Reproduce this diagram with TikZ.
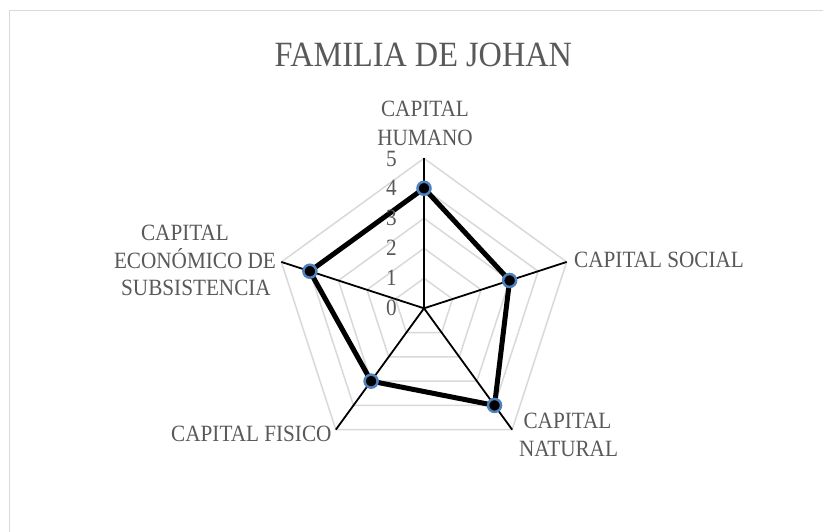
\documentclass[tikz,border=0pt]{standalone}
\usepackage{fontspec}
\setmainfont{Liberation Serif}[FakeStretch=0.91]
\definecolor{txt}{HTML}{595959}
\definecolor{gridc}{HTML}{D9D9D9}
\definecolor{markc}{HTML}{4F81BD}
\begin{document}
\begin{tikzpicture}[x=1pt,y=-1pt,
  lbl/.style={text=txt, font=\fontsize{23.3}{28}\selectfont, inner sep=0pt},
  ttl/.style={text=txt, font=\fontsize{35.5}{40}\selectfont, inner sep=0pt},
  tick/.style={lbl, text height=13pt, text depth=0pt},
  gridline/.style={draw=gridc, line width=1.5pt, line join=miter},
  spoke/.style={draw=black, line width=1.8pt},
  series/.style={draw=black, line width=5pt, line join=round},
  dot/.style={circle, fill=black, draw=markc, line width=2.5pt, minimum size=13pt, inner sep=0pt},
  frame/.style={draw=gridc, line width=1.8pt}]
\useasboundingbox (0,0) rectangle (823,531);
\clip (0,0) rectangle (823,531);
\fill[white] (0,0) rectangle (823,531);
\draw[frame] (9.5,545) -- (9.5,10.5) -- (840,10.5);
\node[ttl, anchor=base] (title) at (423.4,66.7) {FAMILIA DE JOHAN};
\coordinate (O) at (424,308.3);
\begin{scope}[shift={(O)}, x=1pt, y=1pt]
  \foreach \r in {1,...,5}
    \draw[gridline] (90:{30*\r}) -- (18:{30*\r}) -- (-54:{30*\r}) -- (-126:{30*\r}) -- (162:{30*\r}) -- cycle;
  \coordinate (a1) at (90:150);
  \coordinate (a2) at (18:150);
  \coordinate (a3) at (-54:150);
  \coordinate (a4) at (-126:150);
  \coordinate (a5) at (162:150);
  \coordinate (v1) at (90:120);
  \coordinate (v2) at (18:90);
  \coordinate (v3) at (-54:120);
  \coordinate (v4) at (-126:90);
  \coordinate (v5) at (162:120);
\end{scope}
\draw[spoke] (O) -- (a1);
\draw[spoke] (O) -- (a2);
\draw[spoke] (O) -- (a3);
\draw[spoke] (O) -- (a4);
\draw[spoke] (O) -- (a5);
\draw[series] (v1) -- (v2) -- (v3) -- (v4) -- (v5) -- cycle;
\node[dot] (p1) at (v1) {};
\node[dot] (p2) at (v2) {};
\node[dot] (p3) at (v3) {};
\node[dot] (p4) at (v4) {};
\node[dot] (p5) at (v5) {};
% tick labels
\node[tick, anchor=base east] (t0) at (397,315.8) {0};
\node[tick, anchor=base east] (t1) at (397,285.8) {1};
\node[tick, anchor=base east] (t2) at (397,255.8) {2};
\node[tick, anchor=base east] (t3) at (397,225.8) {3};
\node[tick, anchor=base east] (t4) at (397,195.8) {4};
\node[tick, anchor=base east] (t5) at (397,166.3) {5};
% category labels
\node[lbl, anchor=base] (h1) at (425,116.7) {CAPITAL};
\node[lbl, anchor=base] (h2) at (425,145) {HUMANO};
\node[lbl, anchor=base west] (s1) at (574,267.3) {CAPITAL SOCIAL};
\node[lbl, anchor=base] (n1) at (567.5,428.3) {CAPITAL};
\node[lbl, anchor=base] (n2) at (568.5,456.7) {NATURAL};
\node[lbl, anchor=base east] (f1) at (331.7,441.7) {CAPITAL FISICO};
\node[lbl, anchor=base] (e1) at (185,240) {CAPITAL};
\node[lbl, anchor=base] (e2) at (195,268.3) {ECONÓMICO DE};
\node[lbl, anchor=base] (e3) at (196,295) {SUBSISTENCIA};
\end{tikzpicture}
\end{document}
